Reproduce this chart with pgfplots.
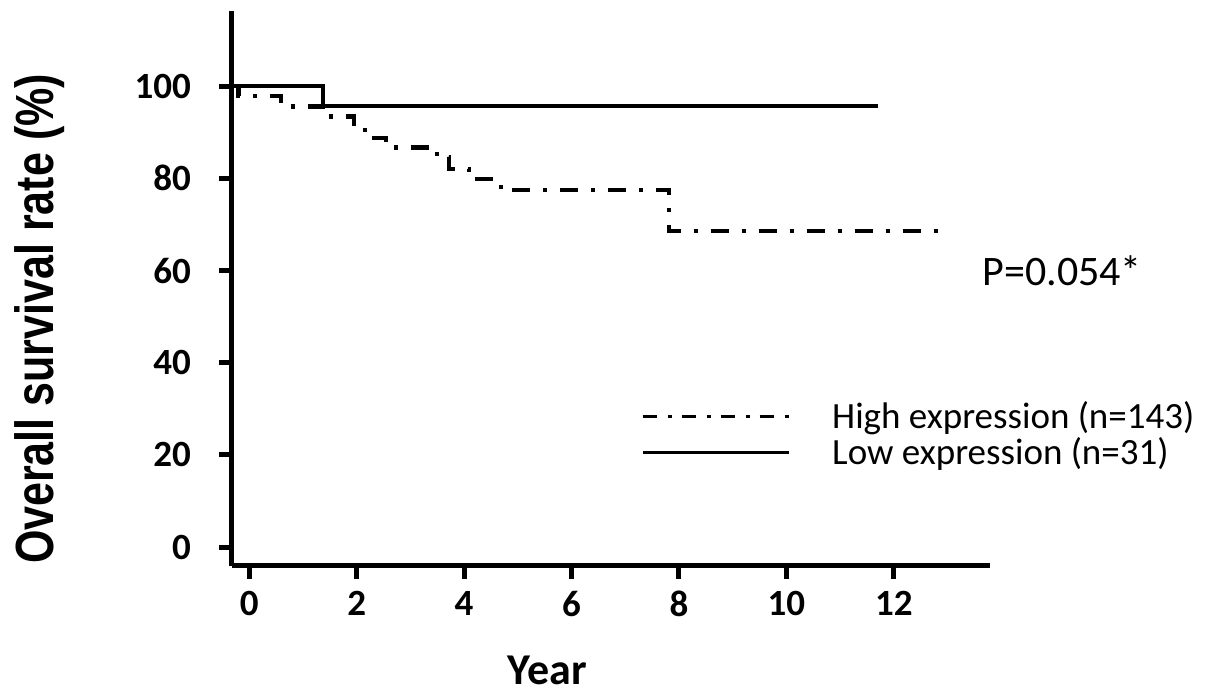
\documentclass[border=0pt]{standalone}
\usepackage{pgfplots}
\pgfplotsset{compat=1.18}
\usepackage{fontspec}
\setmainfont{Carlito}
\newfontfamily\arialfont{Liberation Sans}
\begin{document}
\begin{tikzpicture}
% page = 1205x699 px at 0.5pt per px, axis corner at px (232,566)
\path[use as bounding box] (-116pt,-66.5pt) rectangle (486.5pt,283pt);
\begin{axis}[
  at={(0,0)}, anchor=south west,
  scale only axis,
  width=379pt, height=277.5pt,
  xmin=-0.32, xmax=13.79,
  ymin=-4.1, ymax=116.3,
  axis x line*=bottom,
  axis y line*=left,
  axis line style={-, line width=2.5pt},
  clip=false,
  xtick={0,2,...,12},
  ytick={0,20,...,100},
  tick align=outside,
  major tick length=6.5pt,
  tick style={line width=2.5pt, black},
  /pgf/number format/assume math mode=true,
  ticklabel style={font=\fontsize{18.5}{20}\selectfont\bfseries},
  xticklabel style={yshift=-2.5pt},
  yticklabel style={xshift=-10.5pt},
  xlabel={Year},
  xlabel style={at={(axis description cs:0.416,-0.1874)}, anchor=center,
    font=\fontsize{22}{26}\selectfont\bfseries},
  ylabel={Overall survival rate (\%)},
  ylabel style={at={(axis description cs:-0.2533,0.445)}, anchor=center,
    yscale=1.25,
    font=\fontsize{21.5}{26}\selectfont\arialfont\bfseries},
  legend style={at={(axis cs:7.29,32.5)}, anchor=north west,
    draw=none, fill=none, inner sep=0pt,
    font=\fontsize{18.5}{22}\selectfont,
    row sep=-1pt, column sep=19pt,
    legend cell align=left},
  legend image code/.code={\draw[#1, line width=1.5pt] (0pt,0pt) -- (73pt,0pt);},
]
\addplot[const plot, black, line width=2.1pt,
  dash pattern=on 9pt off 6.5pt on 2pt off 6.5pt,
  legend image code/.code={\draw[black, line width=1.5pt,
    dash pattern=on 7pt off 5.5pt on 2pt off 5pt] (0pt,0pt) -- (73pt,0pt);}]
  coordinates {
  (-0.32,100) (-0.20,97.8) (0.59,95.6) (1.38,93.4) (1.95,91.1)
  (2.16,88.8) (2.55,86.7) (3.49,84.6) (3.72,82.1) (4.09,79.8)
  (4.68,77.5) (7.81,68.5) (13.0,68.5)
};
\addlegendentry{High expression (n=143)}
\addplot[const plot, black, line width=2.1pt] coordinates {
  (-0.32,100) (1.38,95.7) (11.7,95.7)
};
\addlegendentry{Low expression (n=31)}
\node[anchor=west, font=\fontsize{21}{25}\selectfont] at (axis cs:13.52,60) {P=0.054*};
\end{axis}
\end{tikzpicture}
\end{document}
